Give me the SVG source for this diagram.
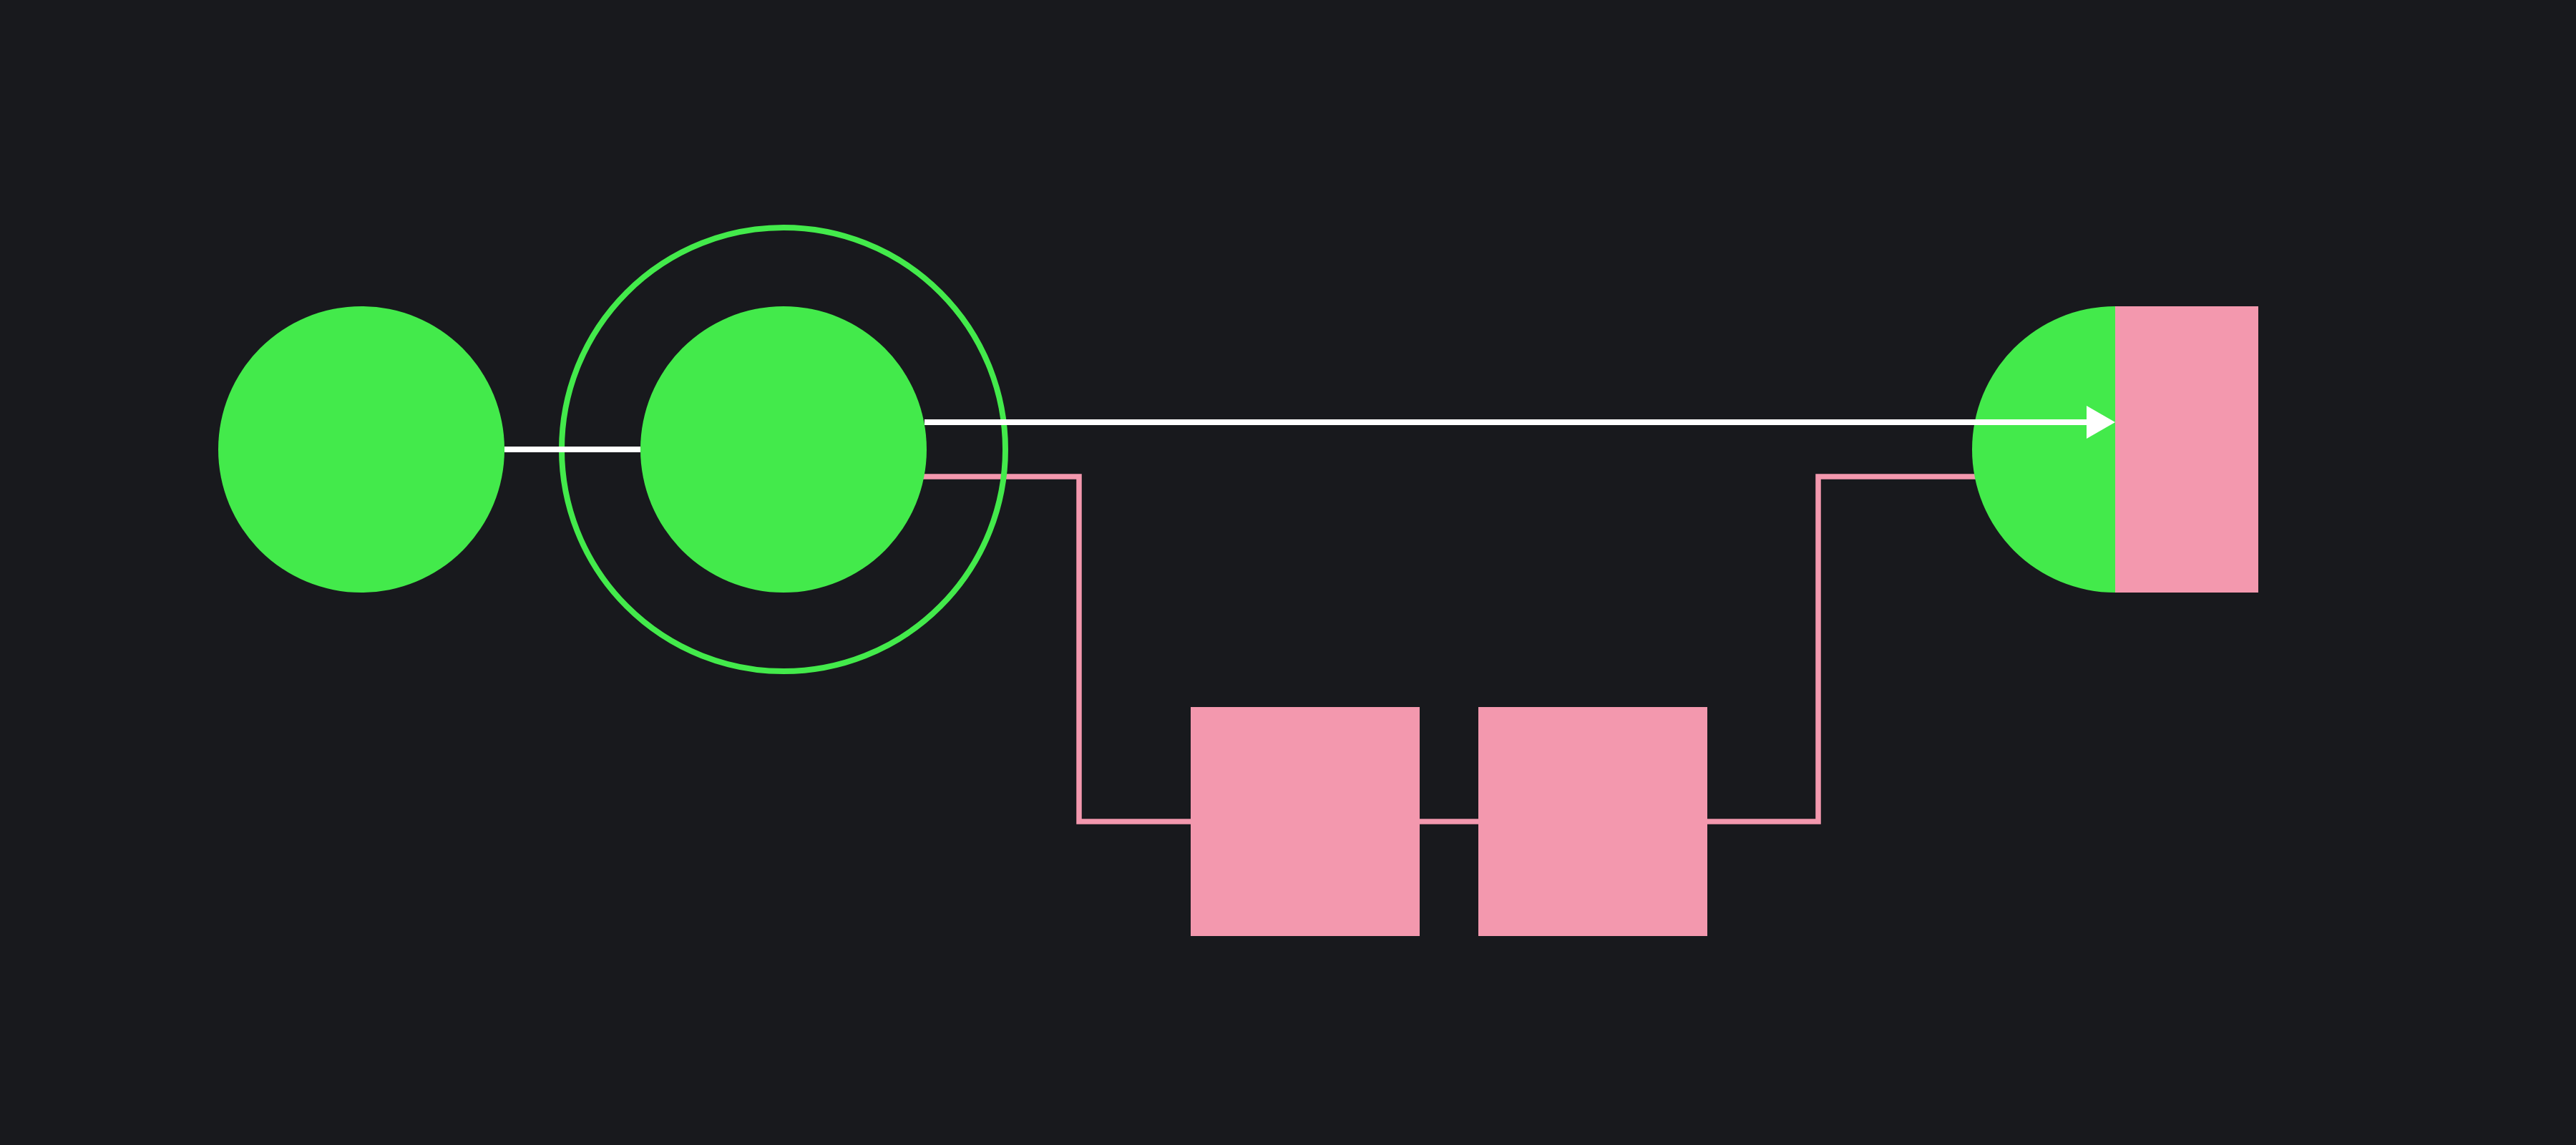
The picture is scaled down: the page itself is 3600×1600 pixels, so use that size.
<svg xmlns="http://www.w3.org/2000/svg" width="3600" height="1600" viewBox="0 0 3600 1600">
<style>
.green{fill:#43ea4b}
.pink{fill:#f398ae}
.ring{fill:none;stroke:#43ea4b;stroke-width:8}
.wire{fill:none;stroke:#ffffff;stroke-width:8}
.pwire{fill:none;stroke:#f398ae;stroke-width:7.5}
</style>
<defs>
<marker id="arrow" markerUnits="userSpaceOnUse" markerWidth="42" markerHeight="48" refX="4" refY="24" orient="auto">
<path d="M0,1 L40,24 L0,47 Z" fill="#ffffff"/>
</marker>
</defs>
<rect x="0" y="0" width="3600" height="1600" fill="#18191d"/>
<g id="connectors-pink">
<polyline class="pwire" points="1288,666 1508,666 1508,1148 1670,1148"/>
<line class="pwire" x1="1980" y1="1148" x2="2070" y2="1148" stroke-width="10"/>
<polyline class="pwire" points="2380,1148 2541,1148 2541,666 2765,666"/>
</g>
<g id="node1"><circle class="green" cx="505" cy="628" r="200"/></g>
<g id="node2">
<circle class="ring" cx="1095" cy="628" r="310"/>
<circle class="green" cx="1095" cy="628" r="200"/>
</g>
<g id="box1"><rect class="pink" x="1664" y="988" width="320" height="320"/></g>
<g id="box2"><rect class="pink" x="2066" y="988" width="320" height="320"/></g>
<g id="node3">
<path class="green" d="M2956,428 A200,200 0 0 0 2956,828 Z"/>
<rect class="pink" x="2956" y="428" width="200" height="400"/>
</g>
<g id="connectors-white">
<line class="wire" x1="705" y1="628" x2="895" y2="628"/>
<line class="wire" x1="1292" y1="590" x2="2920" y2="590" marker-end="url(#arrow)"/>
</g>
</svg>
